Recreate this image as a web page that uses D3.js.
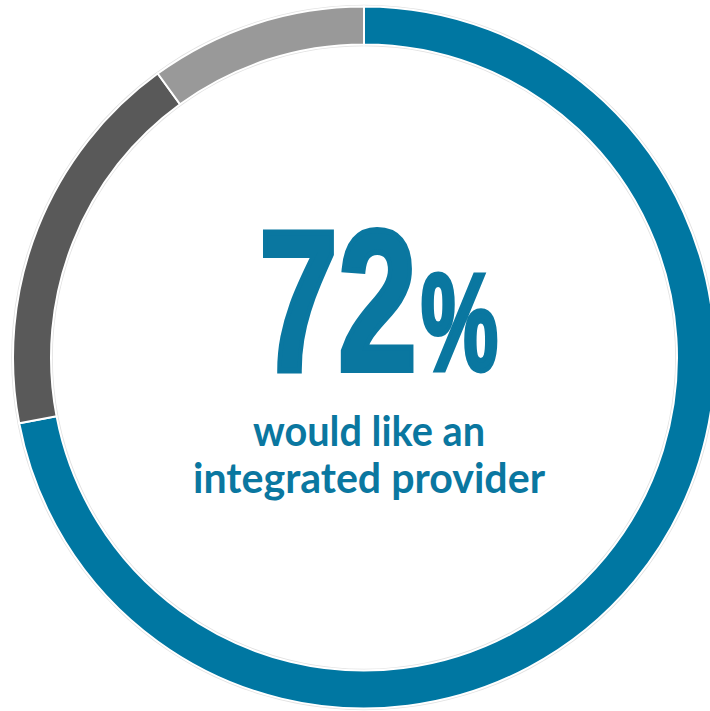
<!DOCTYPE html>
<html><head><meta charset="utf-8">
<script src="https://cdn.jsdelivr.net/npm/d3@7"></script>
<style>html,body{margin:0;padding:0;background:#fff;overflow:hidden}</style>
</head><body>
<svg id="c" width="710" height="711"></svg>
<script>
const categories = ["Integrated provider", "Other", "Unsure"];
const values = [72, 18, 10];
const colors = ["#0077a2", "#595959", "#999999"];
const headline = "72";
const headlineSuffix = "%";
const subtitleLines = ["would like an", "integrated provider"];

const svg = d3.select("#c");
const cx = 364, cy = 357.5, outerR = 351, innerR = 313;
const g = svg.append("g").attr("transform", `translate(${cx},${cy})`);

// faint halo behind the ring
g.append("path")
  .attr("d", d3.arc()({innerRadius: innerR - 1.8, outerRadius: outerR + 1.8, startAngle: 0, endAngle: 2 * Math.PI}))
  .attr("fill", "#e2e2e2");

const pie = d3.pie().sort(null).value(d => d)(values);
const arc = d3.arc().innerRadius(innerR).outerRadius(outerR);
g.selectAll("path.seg").data(pie).join("path")
  .attr("class", "seg")
  .attr("d", arc)
  .attr("fill", (d, i) => colors[i])
  .attr("stroke", "#fff")
  .attr("stroke-width", 2)
  .attr("stroke-linejoin", "miter");

const blue = "#0a77a0";
const bigFont = "'Liberation Sans','DejaVu Sans',sans-serif";

// condensed big text: draw at natural width, then squeeze horizontally to target advance
function condensed(str, x, y, size, targetW, sw) {
  const grp = svg.append("g");
  const t = grp.append("text")
    .attr("x", 0).attr("y", 0)
    .attr("font-family", bigFont).attr("font-weight", 700)
    .attr("font-size", size)
    .attr("fill", blue).attr("stroke", blue).attr("stroke-width", sw)
    .attr("stroke-linejoin", "miter")
    .text(str);
  const w = t.node().getComputedTextLength();
  const sx = targetW / w;
  grp.attr("transform", `translate(${x},${y}) scale(${sx},1)`);
  t.attr("stroke-width", sw / Math.sqrt(sx));
}
condensed(headline, 259, 370, 200, 158, 5);
condensed(headlineSuffix, 421, 370, 137, 77, 4);

const subW = [232, 352];
const subY = [446, 493];
subtitleLines.forEach((t, i) => {
  svg.append("text")
    .attr("x", 369).attr("y", subY[i])
    .attr("text-anchor", "middle")
    .attr("font-family", "Lato, 'Open Sans', sans-serif").attr("font-weight", 700)
    .attr("font-size", 42)
    .attr("textLength", subW[i]).attr("lengthAdjust", "spacingAndGlyphs")
    .attr("fill", blue).text(t);
});
</script>
</body></html>
